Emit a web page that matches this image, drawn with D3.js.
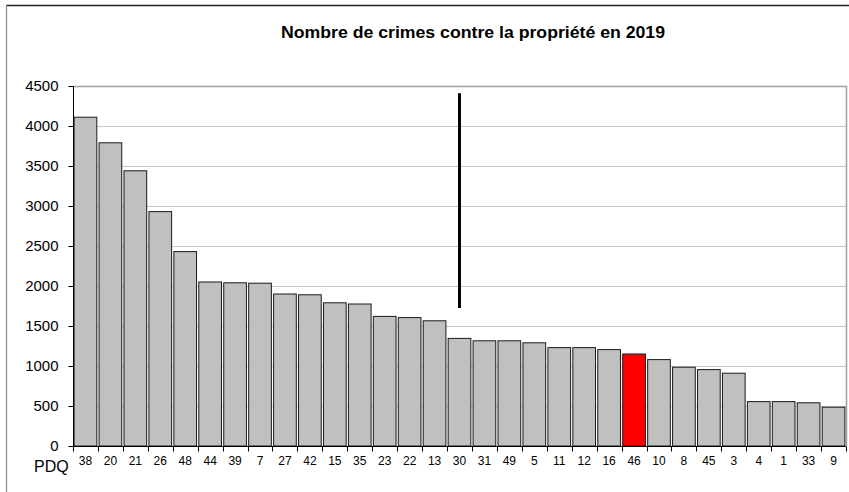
<!DOCTYPE html>
<html>
<head>
<meta charset="utf-8">
<script src="https://cdn.jsdelivr.net/npm/d3@7"></script>
<style>
html,body{margin:0;padding:0;background:#fff;}
svg{display:block;font-family:"Liberation Sans",Arial,sans-serif;}
</style>
</head>
<body>
<svg id="chart" width="849" height="492"></svg>
<script>
const categories = ["38","20","21","26","48","44","39","7","27","42","15","35","23","22","13","30","31","49","5","11","12","16","46","10","8","45","3","4","1","33","9"];
const values = [4110,3790,3440,2930,2430,2050,2040,2035,1900,1890,1790,1775,1620,1605,1565,1345,1315,1315,1290,1230,1230,1205,1150,1080,985,955,910,555,555,540,485];
const highlight = "46";
const yTicks = [0,500,1000,1500,2000,2500,3000,3500,4000,4500];
const title = "Nombre de crimes contre la propriété en 2019";
const axisLabel = "PDQ";
const markerCategory = "30";
const markerRange = [1725, 4410];

const svg = d3.select("#chart");
const pLeft = 73, pRight = 846, pTop = 86, pBottom = 446;

const x = d3.scaleBand().domain(categories).range([pLeft, pRight]).paddingInner(0.09).paddingOuter(0.045);
const y = d3.scaleLinear().domain([0, 4500]).range([pBottom, pTop]);

// outer frame
svg.append("line").attr("x1",6).attr("x2",849).attr("y1",5.5).attr("y2",5.5).attr("stroke","#222").attr("stroke-width",1.5);
svg.append("line").attr("x1",6.5).attr("x2",6.5).attr("y1",5).attr("y2",492).attr("stroke","#888").attr("stroke-width",1.2);

// title
svg.append("text").attr("x",473).attr("y",38).attr("text-anchor","middle")
  .attr("font-size","16px").attr("font-weight","bold").attr("fill","#000")
  .attr("textLength",384).attr("lengthAdjust","spacingAndGlyphs").text(title);

// gridlines
svg.append("g").selectAll("line").data(yTicks.filter(d => d > 0 && d < 4500)).join("line")
  .attr("x1", pLeft).attr("x2", pRight).attr("y1", d => Math.round(y(d))+0.5).attr("y2", d => Math.round(y(d))+0.5)
  .attr("stroke","#c8c8c8").attr("stroke-width",1.2);

// plot area border (top/right)
svg.append("path").attr("d", `M${pLeft},${y(4500)+0.5}H${pRight+0.5}V${pBottom}`)
  .attr("fill","none").attr("stroke","#a0a0a0").attr("stroke-width",1.5);

// bars
svg.append("g").selectAll("rect").data(categories).join("rect")
  .attr("x", d => x(d)).attr("width", x.bandwidth())
  .attr("y", (d,i) => y(values[i])).attr("height", (d,i) => y(0) - y(values[i]))
  .attr("fill", d => d === highlight ? "#ff0000" : "#c0c0c0")
  .attr("stroke","#1a1a1a").attr("stroke-width",1);

// marker line
svg.append("line")
  .attr("x1", x(markerCategory) + x.bandwidth()/2).attr("x2", x(markerCategory) + x.bandwidth()/2)
  .attr("y1", y(markerRange[1])).attr("y2", y(markerRange[0]))
  .attr("stroke","#000").attr("stroke-width",3);

// y axis
const yAxis = d3.axisLeft(y).tickValues(yTicks).tickSize(5).tickPadding(10).tickFormat(d3.format("d"));
const gy = svg.append("g").attr("transform",`translate(${pLeft+0.5},0)`).call(yAxis);
gy.select(".domain").attr("stroke","#000").attr("d", `M0,${pTop}V${pBottom}`);
gy.selectAll(".tick line").attr("stroke","#000");
gy.selectAll(".tick text").attr("font-size","15px").attr("fill","#000").attr("font-family","Liberation Sans, Arial, sans-serif").attr("dy","0.32em");

// x axis
const xAxis = d3.axisBottom(x).tickSize(0).tickPadding(10);
const gx = svg.append("g").attr("transform",`translate(0,${pBottom+0.5})`).call(xAxis);
gx.select(".domain").attr("stroke","#000").attr("d", `M${pLeft},0H${pRight}`);
gx.selectAll(".tick text").attr("font-size","12px").attr("fill","#000").attr("font-family","Liberation Sans, Arial, sans-serif");
// boundary ticks
const bounds = d3.range(categories.length + 1).map(i => pLeft + (pRight-pLeft) * i / categories.length);
gx.append("g").selectAll("line").data(bounds).join("line")
  .attr("x1", d => Math.round(d)+0.5).attr("x2", d => Math.round(d)+0.5).attr("y1",0).attr("y2",5).attr("stroke","#000");

// PDQ label
svg.append("text").attr("x",34).attr("y",472).attr("font-size","16px").attr("fill","#000").text(axisLabel);
</script>
</body>
</html>
